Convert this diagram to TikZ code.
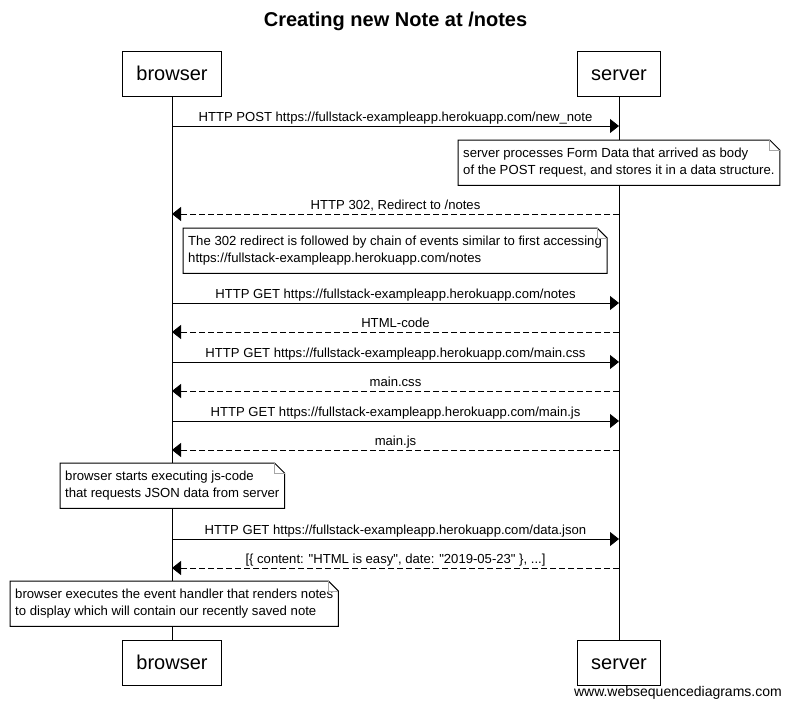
\documentclass[tikz,border=0pt]{standalone}
\usepackage{fontspec}
\setmainfont{Liberation Sans}
\usetikzlibrary{arrows.meta}
\tikzset{
  actor/.style={draw, line width=1pt, inner xsep=14pt, minimum height=45pt, text height=17pt, text depth=3pt, font=\fontsize{20}{24}\selectfont},
  msg/.style={line width=1pt, -{Triangle[length=9pt,width=14pt]}},
  reply/.style={msg, dash pattern=on 6pt off 3pt},
  lbl/.style={font=\fontsize{13.1}{15}\selectfont, text height=10pt, text depth=3pt, inner sep=1pt, anchor=south},
  note/.style={fill=white, anchor=north west, align=left, inner xsep=5pt, minimum height=45pt, font=\fontsize{13.15}{16.5}\selectfont},
}
\newcommand{\foldnote}[1]{%
  \draw[line width=1pt] (#1.north west) -- ([xshift=-10pt]#1.north east) -- ([yshift=-10pt]#1.north east) -- (#1.south east) -- (#1.south west) -- cycle;
  \draw[gray!70, line width=0.8pt] ([xshift=-10pt]#1.north east) |- ([yshift=-10pt]#1.north east);
}
\newcommand{\dq}{\textquotedbl}
\begin{document}
\begin{tikzpicture}[x=1pt,y=-1pt]
	\useasboundingbox (0,0) rectangle (790,710);
	\node[font=\fontsize{20}{24}\selectfont\bfseries] (title) at (395.5,21) {Creating new Note at /notes};
	% participants
	\node[actor] (bt) at (172,73.5) {browser};
	\node[actor] (st) at (619,73.5) {server};
	\node[actor] (bb) at (172,662.5) {browser};
	\node[actor] (sb) at (619,662.5) {server};
	\draw[line width=1pt] (bt) -- (bb);
	\draw[line width=1pt] (st) -- (sb);
	% message rows
	\foreach \n/\y in {1/126,2/214,3/303,4/332,5/362,6/391,7/421,8/450,9/539,10/568}{
		\coordinate (b\n) at (172,\y);
		\coordinate (s\n) at (619,\y);
	}
	\draw[msg] (b1) -- node[lbl] {HTTP POST https://fullstack-exampleapp.herokuapp.com/new\_note} (s1);
	\node[note] (n1) at (458,140) {server processes Form Data that arrived as body\\of the POST request, and stores it in a data structure.};
	\foldnote{n1}
	\draw[reply] (s2) -- node[lbl] {HTTP 302, Redirect to /notes} (b2);
	\node[note] (n2) at (183,228) {The 302 redirect is followed by chain of events similar to first accessing\\https://fullstack-exampleapp.herokuapp.com/notes};
	\foldnote{n2}
	\draw[msg] (b3) -- node[lbl] {HTTP GET https://fullstack-exampleapp.herokuapp.com/notes} (s3);
	\draw[reply] (s4) -- node[lbl] {HTML-code} (b4);
	\draw[msg] (b5) -- node[lbl] {HTTP GET https://fullstack-exampleapp.herokuapp.com/main.css} (s5);
	\draw[reply] (s6) -- node[lbl] {main.css} (b6);
	\draw[msg] (b7) -- node[lbl] {HTTP GET https://fullstack-exampleapp.herokuapp.com/main.js} (s7);
	\draw[reply] (s8) -- node[lbl] {main.js} (b8);
	\node[note] (n3) at (60,463) {browser starts executing js-code\\that requests JSON data from server};
	\foldnote{n3}
	\draw[msg] (b9) -- node[lbl] {HTTP GET https://fullstack-exampleapp.herokuapp.com/data.json} (s9);
	\draw[reply] (s10) -- node[lbl] {[\{ content: \dq HTML is easy\dq, date: \dq 2019-05-23\dq\ \}, ...]} (b10);
	\node[note] (n4) at (10,581) {browser executes the event handler that renders notes\\to display which will contain our recently saved note};
	\foldnote{n4}
	\node[anchor=east, inner sep=0pt, font=\fontsize{14}{16}\selectfont] (credit) at (782,693) {www.websequencediagrams.com};
\end{tikzpicture}
\end{document}
